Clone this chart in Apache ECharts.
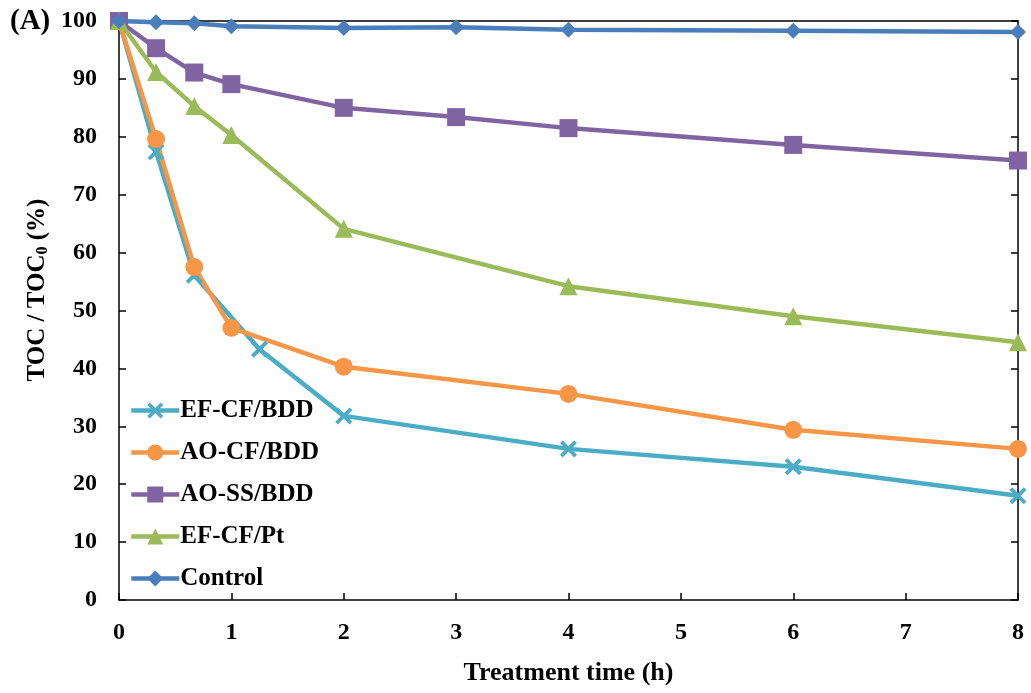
<!DOCTYPE html>
<html>
<head>
<meta charset="utf-8">
<script src="https://cdn.jsdelivr.net/npm/echarts@6/dist/echarts.min.js"></script>
<style>
  html, body { margin: 0; padding: 0; background: #fff; }
  #chart { width: 1031px; height: 693px; }
</style>
</head>
<body>
<div id="chart"></div>
<script>
var FONT = '"Liberation Serif", "Times New Roman", serif';

// treatment time (h) and TOC/TOC0 (%)
var tEF_BDD = [0, 0.33, 0.67, 1.25, 2, 4, 6, 8];
var yEF_BDD = [100, 77.4, 56.1, 43.3, 31.8, 26.1, 23.0, 18.0];

var tAO_CF = [0, 0.33, 0.67, 1, 2, 4, 6, 8];
var yAO_CF = [100, 79.6, 57.5, 47.0, 40.3, 35.6, 29.4, 26.1];

var tAO_SS = [0, 0.33, 0.67, 1, 2, 3, 4, 6, 8];
var yAO_SS = [100, 95.3, 91.1, 89.1, 85.0, 83.4, 81.5, 78.6, 75.9];

var tEF_Pt = [0, 0.33, 0.67, 1, 2, 4, 6, 8];
var yEF_Pt = [100, 91.2, 85.3, 80.3, 64.1, 54.2, 49.0, 44.5];

var tCtrl = [0, 0.33, 0.67, 1, 2, 3, 4, 6, 8];
var yCtrl = [100, 99.8, 99.6, 99.1, 98.8, 98.9, 98.5, 98.3, 98.1];

var names = ['EF-CF/BDD', 'AO-CF/BDD', 'AO-SS/BDD', 'EF-CF/Pt', 'Control'];
var colors = ['#4bacc6', '#f79646', '#8064a2', '#9bbb59', '#4a7ebb'];

var xShape = 'path://M0,1.6 L1.6,0 L5,3.4 L8.4,0 L10,1.6 L6.6,5 L10,8.4 L8.4,10 L5,6.6 L1.6,10 L0,8.4 L3.4,5 Z';

function pairs(xs, ys) { return xs.map(function (x, i) { return [x, ys[i]]; }); }

function mkSeries(idx, xs, ys, symbol, size) {
  return {
    name: names[idx],
    type: 'line',
    data: pairs(xs, ys),
    symbol: symbol,
    symbolSize: size,
    showAllSymbol: true,
    lineStyle: { color: colors[idx], width: 4.5 },
    itemStyle: { color: colors[idx] },
    emphasis: { disabled: true },
    animation: false
  };
}

var myChart = echarts.init(document.getElementById('chart'));
var option = {
  backgroundColor: '#fff',
  textStyle: { fontFamily: FONT },
  graphic: [{
    type: 'text', left: 10, top: 7,
    style: { text: '(A)', font: 'bold 29px ' + FONT, fill: '#000' }
  }, {
    type: 'text', x: 38, y: 290, rotation: Math.PI / 2,
    style: {
      text: 'TOC / TOC{sub|0} (%)', align: 'center', verticalAlign: 'middle',
      font: 'bold 25px ' + FONT, fill: '#000',
      rich: { sub: { font: 'bold 16px ' + FONT, fill: '#000', verticalAlign: 'bottom', padding: [10, 0, 0, 0] } }
    }
  }],
  grid: { left: 119, right: 13, top: 21, bottom: 93 },
  legend: {
    orient: 'vertical', left: 124, top: 393,
    itemGap: 17, itemWidth: 48, itemHeight: 20,
    data: names,
    lineStyle: { width: 4.5 },
    textStyle: { fontFamily: FONT, fontWeight: 'bold', fontSize: 25, color: '#000', padding: [0, 0, 0, -4] }
  },
  xAxis: [{
    type: 'value', min: 0, max: 8, interval: 1,
    name: 'Treatment time (h)', nameLocation: 'middle', nameGap: 60,
    nameTextStyle: { fontFamily: FONT, fontWeight: 'bold', fontSize: 26, color: '#000' },
    axisLine: { lineStyle: { color: '#000', width: 1.5 } },
    axisTick: { inside: true, length: 7, lineStyle: { color: '#000', width: 1.5 } },
    axisLabel: { fontFamily: FONT, fontWeight: 'bold', fontSize: 24, color: '#000', margin: 21 },
    splitLine: { show: false }
  }, {
    type: 'value', min: 0, max: 8, position: 'top',
    axisLine: { show: true, onZero: false, lineStyle: { color: '#000', width: 1.5 } },
    axisTick: { show: false }, axisLabel: { show: false }, splitLine: { show: false }
  }],
  yAxis: [{
    type: 'value', min: 0, max: 100, interval: 10,
    axisLine: { show: true, lineStyle: { color: '#000', width: 1.5 } },
    axisTick: { show: true, inside: true, length: 7, lineStyle: { color: '#000', width: 1.5 } },
    axisLabel: { fontFamily: FONT, fontWeight: 'bold', fontSize: 24, color: '#000', margin: 22 },
    splitLine: { show: false }
  }, {
    type: 'value', min: 0, max: 100, interval: 10, position: 'right',
    axisLine: { show: true, onZero: false, lineStyle: { color: '#000', width: 1.5 } },
    axisTick: { show: true, inside: true, length: 7, lineStyle: { color: '#000', width: 1.5 } },
    axisLabel: { show: false }, splitLine: { show: false }
  }],
  series: [
    mkSeries(0, tEF_BDD, yEF_BDD, xShape, 17),
    mkSeries(1, tAO_CF, yAO_CF, 'circle', 18),
    mkSeries(2, tAO_SS, yAO_SS, 'rect', 18),
    mkSeries(3, tEF_Pt, yEF_Pt, 'triangle', 18),
    mkSeries(4, tCtrl, yCtrl, 'diamond', 16)
  ]
};
myChart.setOption(option);
</script>
</body>
</html>
